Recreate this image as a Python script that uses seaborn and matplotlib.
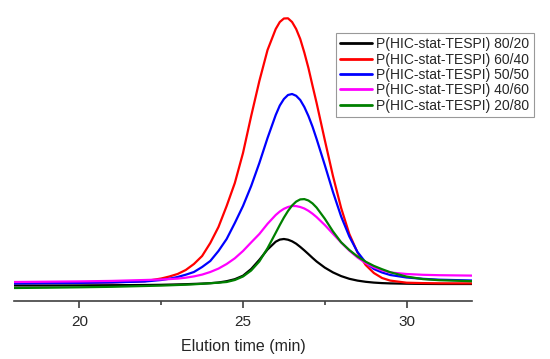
import numpy as np
import pandas as pd
import matplotlib
matplotlib.use("Agg")
import matplotlib.pyplot as plt
import seaborn as sns
from matplotlib.ticker import MultipleLocator

# tiempos de elución (min)
tiempo = [18, 19, 20, 21, 22, 22.5, 22.75, 23, 23.25, 23.5, 23.75, 24, 24.25,
          24.5, 24.75, 25, 25.25, 25.5, 25.75, 26, 26.125, 26.25, 26.375, 26.5,
          26.625, 26.75, 26.875, 27, 27.125, 27.25, 27.5, 27.75, 28, 28.25,
          28.5, 28.75, 29, 29.25, 29.5, 30, 30.5, 31, 32]

# señal del detector (unidades arbitrarias)
s_80_20 = [15.5, 15.5, 15.6, 15.8, 16, 16.2, 16.4, 16.6, 16.8, 17.1, 17.4, 17.8,
           18.5, 19.8, 21.8, 25.3, 32, 41.2, 51.5, 59.3, 61.4, 62, 61.3, 59.7,
           57.3, 54.1, 50.6, 46.9, 43.1, 39.5, 33.4, 28.6, 24.9, 22.2, 20.4,
           19.2, 18.4, 17.9, 17.6, 17.3, 17.1, 17, 17]
s_60_40 = [18, 18, 18.2, 18.6, 19.8, 22.5, 24.5, 27, 31, 37, 45, 58, 74, 95,
           118, 148, 185, 220, 251, 272, 279, 282.5, 282.7, 279, 272, 262,
           248.4, 233, 215.3, 198, 161, 125, 93, 67, 48.5, 36, 28, 23, 20.4,
           18.3, 17.9, 17.7, 17.6]
s_50_50 = [17.5, 17.8, 18.1, 18.6, 19.5, 21, 22.3, 24, 26.3, 29, 34, 40, 50,
           62, 78, 95, 115, 138, 163, 186, 195.5, 202, 206, 207, 205.2, 201,
           194, 185, 174.3, 162, 136, 109, 84.5, 64.5, 49, 38.5, 32, 28.5, 26,
           23.5, 22.2, 21.3, 20.5]
s_40_60 = [19, 19.3, 19.6, 20.1, 21, 21.5, 21.9, 22.4, 23.3, 24.6, 26.4, 29,
           32.4, 37, 42.7, 50, 58.6, 67, 77.2, 86, 89.5, 92.2, 94, 95, 94.9, 94,
           92.5, 90.2, 87.3, 83.9, 76, 67.2, 58.5, 50.4, 43.5, 37.9, 33.7, 30.6,
           28.5, 27, 26.2, 25.8, 25.4]
s_20_80 = [13, 13.3, 13.7, 14.2, 15, 15.4, 15.7, 16, 16.3, 16.7, 17.2, 17.8,
           18.3, 19, 21, 24.5, 30.5, 39.6, 52.8, 68.2, 76, 83.4, 90, 95.5, 99.4,
           101.6, 101.9, 100.5, 97.6, 93.4, 82.3, 69.6, 58.7, 51, 44.5, 39.3,
           35.1, 31.8, 28.8, 24.4, 21.9, 20.8, 19.8]

muestras = ["P(HIC-stat-TESPI) 80/20", "P(HIC-stat-TESPI) 60/40",
            "P(HIC-stat-TESPI) 50/50", "P(HIC-stat-TESPI) 40/60",
            "P(HIC-stat-TESPI) 20/80"]
colores = ["#000000", "#ff0000", "#0000ff", "#ff00ff", "#008000"]

series = [s_80_20, s_60_40, s_50_50, s_40_60, s_20_80]
df = pd.concat([pd.DataFrame({"t": tiempo, "senal": s, "muestra": m})
                for s, m in zip(series, muestras)], ignore_index=True)

sns.set_style("white")
plt.rcParams["font.family"] = ["Liberation Sans", "DejaVu Sans"]

fig = plt.figure(figsize=(5.5, 3.59), dpi=100)
ax = fig.add_axes([14 / 550, 58 / 359, 458 / 550, 301 / 359])

sns.lineplot(data=df, x="t", y="senal", hue="muestra", hue_order=muestras,
             palette=dict(zip(muestras, colores)), linewidth=1.6, ax=ax,
             estimator=None, sort=False)

ax.set_xlim(18, 32)
ax.set_ylim(0, 301)
ax.set_yticks([])
ax.set_ylabel("")
ax.set_xlabel("Elution time (min)", fontsize=11.5, labelpad=7)
for lado in ["left", "top", "right"]:
    ax.spines[lado].set_visible(False)
ax.spines["bottom"].set_color("#404040")
ax.spines["bottom"].set_linewidth(1.2)
ax.xaxis.set_major_locator(MultipleLocator(5))
ax.xaxis.set_minor_locator(MultipleLocator(2.5))
ax.tick_params(axis="x", which="major", direction="out", length=5, width=1.2,
               color="#404040", labelsize=11, pad=5, bottom=True)
ax.tick_params(axis="x", which="minor", direction="out", length=3, width=1.2,
               color="#404040", bottom=True)

leg = ax.legend(loc="upper left", bbox_to_anchor=(336 / 550, 1 - 33 / 359),
                bbox_transform=fig.transFigure, borderaxespad=0, fontsize=10,
                frameon=True, fancybox=False, labelspacing=0.1, handlelength=2.3,
                handletextpad=0.3, borderpad=0.3)
leg.get_frame().set_edgecolor("#808080")
leg.get_frame().set_linewidth(0.8)
for h in leg.get_lines():
    h.set_linewidth(2)

fig.savefig("out.png", dpi=100)
